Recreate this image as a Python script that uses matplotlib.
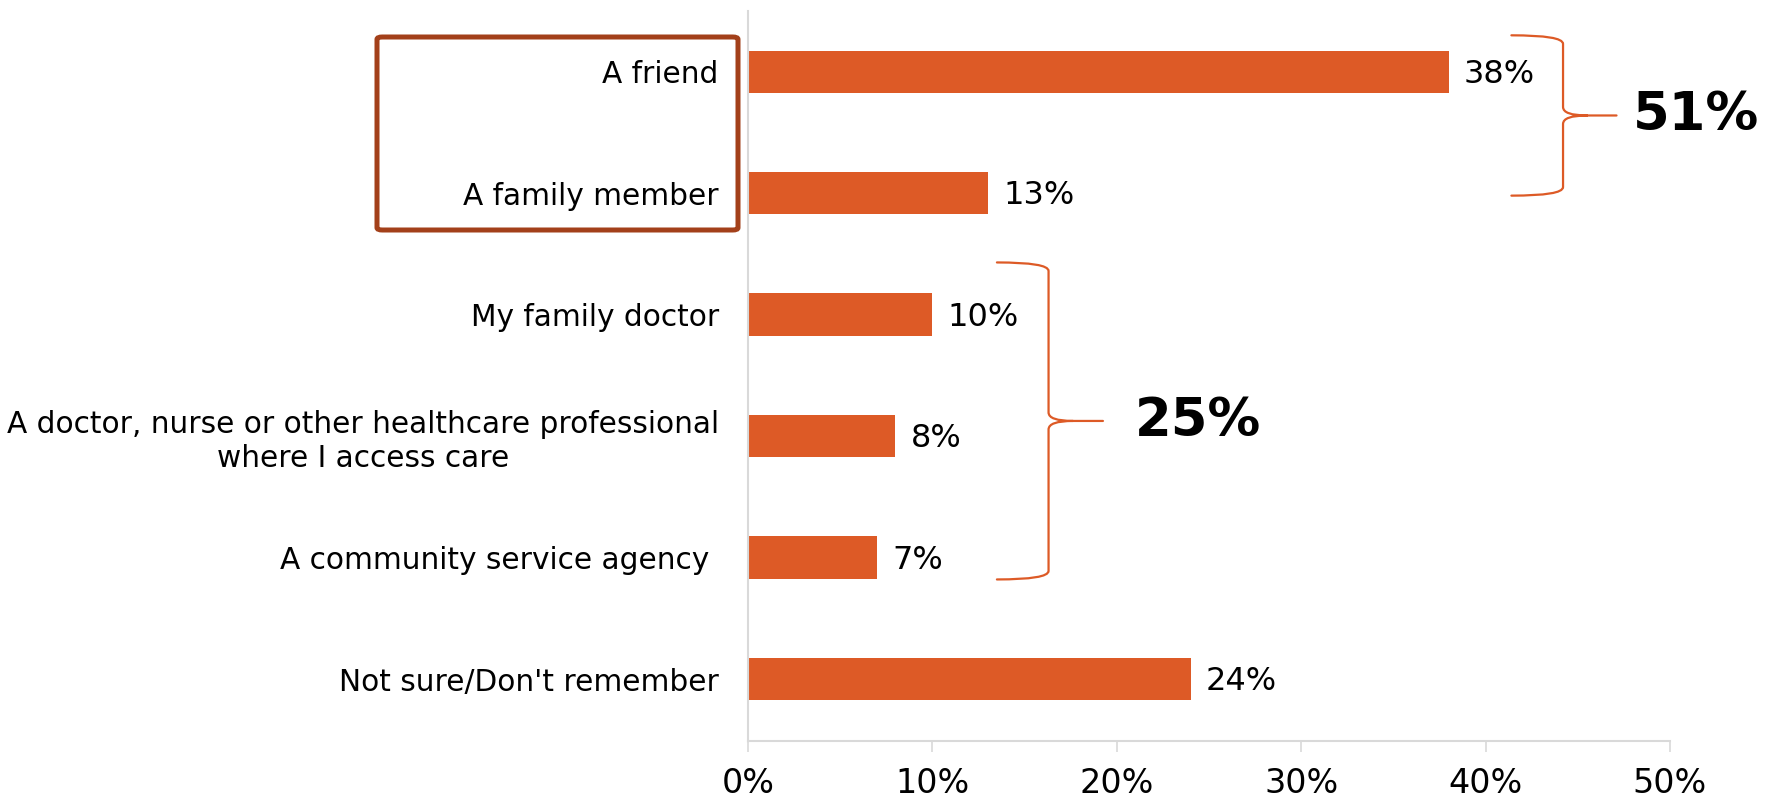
import matplotlib.pyplot as plt
from matplotlib.path import Path
from matplotlib.patches import PathPatch, FancyBboxPatch

# survey answers, top to bottom
categories = [
    "A friend",
    "A family member",
    "My family doctor",
    "A doctor, nurse or other healthcare professional\nwhere I access care",
    "A community service agency ",
    "Not sure/Don't remember",
]
values = [38, 13, 10, 8, 7, 24]
xticks = [0, 10, 20, 30, 40, 50]

# grouped totals shown beside the braces
group_personal = values[0] + values[1]
group_services = values[2] + values[3] + values[4]

bar_color = "#DD5A26"
axis_color = "#D9D9D9"

plt.rcParams['font.family'] = ['DejaVu Sans']

fig = plt.figure(figsize=(17.67, 7.99), dpi=100)
ax = fig.add_axes([0.4233, 0.0726, 0.5218, 0.9136])

y = list(range(len(categories)))
ax.barh(y, values, height=0.35, color=bar_color, zorder=2)

for yi, v in zip(y, values):
    ax.annotate(f"{v}%", (v, yi), xytext=(11, -2), textcoords="offset points",
                va="center", ha="left", fontsize=23)

ax.set_xlim(0, 50)
ax.set_ylim(5.51, -0.5)
ax.set_yticks(y)
ax.set_yticklabels(categories, fontsize=21.3)
for lab in ax.get_yticklabels():
    lab.set_multialignment("center")
ax.tick_params(axis="y", length=0, pad=21)
ax.set_xticks(xticks)
ax.set_xticklabels([f"{t}%" for t in xticks], fontsize=24)
ax.tick_params(axis="x", length=8, width=1.2, color=axis_color, pad=11)

for s in ["top", "right"]:
    ax.spines[s].set_visible(False)
for s in ["left", "bottom"]:
    ax.spines[s].set_color(axis_color)
    ax.spines[s].set_linewidth(1.5)


def brace(x0, x1, xtip, ytop, ybot, ry=0.07):
    ymid = (ytop + ybot) / 2
    xm = x1 + (xtip - x1) * 0.45
    verts = [
        (x0, ytop), (x1, ytop), (x1, ytop + ry),
        (x1, ymid - ry), (x1, ymid), (xm, ymid),
        (xtip, ymid),
        (xm, ymid), (x1, ymid), (x1, ymid + ry),
        (x1, ybot - ry), (x1, ybot), (x0, ybot),
    ]
    codes = [
        Path.MOVETO, Path.CURVE3, Path.CURVE3,
        Path.LINETO, Path.CURVE3, Path.CURVE3,
        Path.LINETO,
        Path.MOVETO, Path.CURVE3, Path.CURVE3,
        Path.LINETO, Path.CURVE3, Path.CURVE3,
    ]
    ax.add_patch(PathPatch(Path(verts, codes), fill=False, edgecolor=bar_color,
                           lw=1.6, clip_on=False, capstyle="round"))
    return ymid


ym1 = brace(41.4, 44.2, 47.1, -0.30, 1.02)
ax.text(48.0, ym1, f"{group_personal}%", fontsize=38, fontweight="bold",
        va="center", ha="left", clip_on=False)

ym2 = brace(13.5, 16.3, 19.25, 1.57, 4.18)
ax.text(21.0, ym2, f"{group_services}%", fontsize=38, fontweight="bold",
        va="center", ha="left")

# outline round the two personal-contact labels
W, H = 1767, 799
box = FancyBboxPatch((377 / W, 1 - 230 / H), 361 / W, 193 / H,
                     boxstyle="round,pad=0,rounding_size=0.003",
                     transform=fig.transFigure, fill=False,
                     edgecolor="#A3401A", lw=3.6)
fig.patches.append(box)

fig.savefig("out.png", dpi=100)
